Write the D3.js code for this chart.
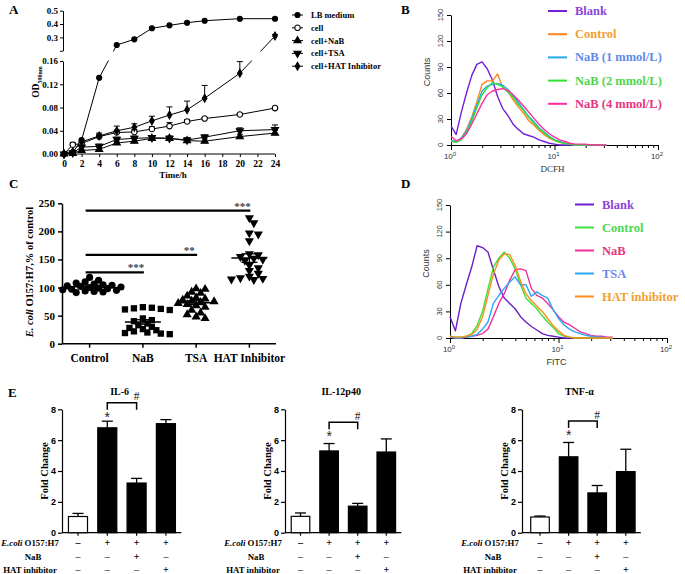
<!DOCTYPE html>
<html>
<head>
<meta charset="utf-8">
<script src="https://cdn.jsdelivr.net/npm/d3@7"></script>
<style>
  body { margin: 0; background: #fff; }
</style>
</head>
<body>
<div id="chart"></div>
<script>
// ---------- data ----------
// panel A: growth curves (OD590)
const hours = [0, 1, 2, 4, 6, 8, 10, 12, 14, 16, 20, 24];
const odLB = [0, 0.003, 0.024, 0.131, 0.243, 0.285, 0.368, 0.39, 0.41, 0.425, 0.44, 0.44];
const odCell = [0, 0.016, 0.018, 0.030, 0.037, 0.038, 0.043, 0.048, 0.056, 0.061, 0.068, 0.079];
const odCellErr = [0, 0.004, 0.003, 0.004, 0.004, 0.004, 0.004, 0.006, 0.003, 0.002, 0.002, 0.003];
const odNaB = [0, 0.001, 0.006, 0.008, 0.019, 0.022, 0.027, 0.027, 0.023, 0.022, 0.030, 0.036];
const odNaBErr = [0, 0.001, 0.002, 0.003, 0.003, 0.004, 0.003, 0.003, 0.003, 0.004, 0.004, 0.005];
const odTSA = [0, 0.002, 0.012, 0.013, 0.025, 0.027, 0.028, 0.027, 0.024, 0.029, 0.040, 0.042];
const odTSAErr = [0, 0.001, 0.003, 0.004, 0.004, 0.004, 0.003, 0.004, 0.004, 0.004, 0.005, 0.008];
const odHAT = [0, 0.004, 0.021, 0.031, 0.040, 0.046, 0.057, 0.067, 0.076, 0.096, 0.139, 0.31];
const odHATErr = [0, 0.002, 0.003, 0.005, 0.008, 0.006, 0.008, 0.014, 0.015, 0.022, 0.02, 0.012];
const seriesNamesA = ["LB medium", "cell", "cell+NaB", "cell+TSA", "cell+HAT Inhibitor"];

// panels B and D: flow cytometry histograms (counts per log10 bin)
const binLog = [0, 0.05, 0.1, 0.15, 0.2, 0.25, 0.3, 0.35, 0.4, 0.45, 0.5, 0.55, 0.6, 0.65, 0.7, 0.75,
                0.8, 0.85, 0.9, 0.95, 1, 1.05, 1.1, 1.15, 1.2, 1.25, 1.3, 1.35, 1.4, 1.45, 1.5];
const bBlank   = [22, 12, 38, 60, 80, 93, 96, 88, 75, 56, 42, 34, 24, 18, 13, 11, 9, 6, 4, 2, 1, 0, 0, 0, 0, 0, 0, 0, 0, 0, 0];
const bControl = [5, 4, 8, 18, 32, 50, 70, 74, 74, 82, 66, 62, 52, 44, 37, 28, 23, 17, 12, 8, 5, 3, 2, 1, 0, 0, 0, 0, 0, 0, 0];
const bNaB1    = [5, 4, 8, 16, 30, 46, 62, 68, 70, 71, 69, 64, 57, 49, 41, 33, 27, 20, 15, 10, 6, 4, 2, 1, 0, 0, 0, 0, 0, 0, 0];
const bNaB2    = [4, 3, 6, 14, 27, 43, 58, 66, 72, 70, 67, 61, 55, 47, 40, 32, 25, 19, 14, 9, 6, 3, 2, 1, 0, 0, 0, 0, 0, 0, 0];
const bNaB4    = [10, 5, 7, 13, 24, 36, 48, 58, 62, 64, 65, 63, 58, 52, 45, 38, 31, 24, 18, 13, 9, 6, 4, 2, 1, 1, 1, 0, 0, 0, 0];
const bLegend  = ["Blank", "Control", "NaB (1 mmol/L)", "NaB (2 mmol/L)", "NaB (4 mmol/L)"];

const dBlank   = [24, 8, 39, 60, 80, 104, 102, 97, 77, 58, 45, 39, 33, 24, 18, 13, 9, 5, 3, 2, 1, 0, 0, 0, 0, 0, 0, 0, 0, 0, 0];
const dControl = [2, 1, 1, 2, 5, 14, 30, 55, 80, 90, 97, 90, 78, 60, 45, 39, 33, 25, 18, 12, 5, 2, 1, 0, 0, 0, 0, 0, 0, 0, 0];
const dNaB     = [1, 0, 0, 1, 2, 3, 5, 10, 24, 39, 50, 65, 77, 78, 76, 56, 48, 45, 39, 32, 24, 18, 15, 11, 7, 5, 3, 2, 2, 1, 1];
const dTSA     = [1, 0, 0, 1, 2, 4, 10, 18, 39, 48, 56, 63, 69, 60, 60, 47, 52, 48, 45, 32, 22, 15, 10, 7, 5, 3, 2, 1, 1, 0, 0];
const dHAT     = [2, 1, 1, 2, 4, 10, 24, 48, 72, 88, 95, 94, 82, 64, 50, 42, 36, 30, 22, 14, 8, 3, 1, 0, 0, 0, 0, 0, 0, 0, 0];
const dLegend  = ["Blank", "Control", "NaB", "TSA", "HAT inhibitor"];

// panel C: E. coli O157:H7 adhesion, % of control
const cCategories = ["Control", "NaB", "TSA", "HAT Inhibitor"];
const cControl = [118, 113, 110, 108, 106, 105, 104, 103, 102, 101, 100, 99, 98, 97, 96, 95, 94, 93, 92, 91];
const cNaB = [65, 64, 63, 62, 61, 60, 45, 42, 40, 36, 33, 30, 28, 26, 24, 22, 20, 19, 18, 17];
const cTSA = [98, 97, 92, 90, 85, 82, 80, 78, 76, 75, 74, 72, 70, 68, 65, 60, 55, 52, 48, 45];
const cHAT = [224, 215, 197, 195, 183, 160, 158, 155, 152, 150, 148, 140, 135, 130, 125, 120, 117, 116, 115, 114];
const cSig = [["NaB", 127, "***"], ["TSA", 158, "**"], ["HAT Inhibitor", 237, "***"]];

// panel E: cytokine fold change
const eGroups = ["none", "ecoli", "ecoli+NaB", "ecoli+HAT"];
const il6 = [1.05, 6.8, 3.22, 7.07];
const il6Err = [0.2, 0.43, 0.3, 0.26];
const il12 = [1.06, 5.3, 1.72, 5.23];
const il12Err = [0.22, 0.48, 0.18, 0.85];
const tnf = [1.02, 4.92, 2.58, 3.96];
const tnfErr = [0.06, 0.93, 0.48, 1.45];
const rowEcoli = ["–", "+", "+", "+"];
const rowNaB = ["–", "–", "+", "–"];
const rowHAT = ["–", "–", "–", "+"];

// ---------- setup ----------
const serif = "'Liberation Serif', 'Times New Roman', serif";
const sans = "'Liberation Sans', Arial, sans-serif";

const svg = d3.select("#chart").append("svg")
    .attr("width", 685)
    .attr("height", 574)
    .style("background", "#fff");

function styleAxis(g, family, size, weight, width) {
  g.attr("font-family", family)
   .attr("font-size", size)
   .attr("font-weight", weight);
  g.selectAll("text").attr("fill", "#000");
  g.selectAll("line, path").attr("stroke", "#000").attr("stroke-width", width);
}

function symbolPath(kind, size) {
  if (kind === "circle") return d3.symbol(d3.symbolCircle, size)();
  if (kind === "square") return d3.symbol(d3.symbolSquare, size)();
  if (kind === "diamond") return d3.symbol(d3.symbolDiamond, size)();
  return d3.symbol(d3.symbolTriangle, size)();
}

function panelLetter(x, y, t) {
  svg.append("text").attr("x", x).attr("y", y).text(t)
    .attr("font-family", serif).attr("font-weight", "bold").attr("font-size", 13);
}

// ---------- panel A ----------
panelLetter(9, 14, "A");
const gA = svg.append("g");
const xA = d3.scaleLinear().domain([0, 24]).range([64, 275]);
const yLow = d3.scaleLinear().domain([0, 0.16]).range([154, 61]);
const yHigh = d3.scaleLinear().domain([0.2, 0.5]).range([50.7, 10.7]);
const yA = v => v <= 0.18 ? yLow(v) : yHigh(v);

const axLow = gA.append("g").attr("transform", "translate(63,0)")
  .call(d3.axisLeft(yLow).tickValues([0, 0.04, 0.08, 0.12, 0.16])
    .tickFormat(d3.format(".2f")).tickSize(3).tickSizeOuter(0).tickPadding(2));
styleAxis(axLow, serif, 9, "bold", 1);
const axHigh = gA.append("g").attr("transform", "translate(63,0)")
  .call(d3.axisLeft(yHigh).tickValues([0.2, 0.3, 0.4, 0.5])
    .tickFormat(d => d < 0.25 ? "" : d3.format(".1f")(d)).tickSize(3).tickSizeOuter(0).tickPadding(2));
styleAxis(axHigh, serif, 9, "bold", 1);
const axXA = gA.append("g").attr("transform", "translate(0,154)")
  .call(d3.axisBottom(xA).tickValues([0, 2, 4, 6, 8, 10, 12, 14, 16, 18, 20, 22, 24])
    .tickSize(3).tickSizeOuter(0).tickPadding(3));
axXA.select(".domain").attr("d", "M63,0H275");
styleAxis(axXA, serif, 9.5, "bold", 1);

gA.append("text")
  .attr("transform", "translate(39,82) rotate(-90)")
  .attr("text-anchor", "middle")
  .attr("font-family", serif).attr("font-weight", "bold").attr("font-size", 9.5)
  .call(t => {
    t.append("tspan").text("OD");
    t.append("tspan").attr("dy", 2.5).attr("font-size", 6).text("590nm");
  });
gA.append("text").attr("x", 173).attr("y", 178).attr("text-anchor", "middle")
  .attr("font-family", serif).attr("font-weight", "bold").attr("font-size", 9)
  .text("Time/h");

const seriesA = [
  { values: odLB, err: null, sym: "circle", fill: "#000", size: 20 },
  { values: odCell, err: odCellErr, sym: "circle", fill: "#fff", size: 24 },
  { values: odNaB, err: odNaBErr, sym: "triUp", fill: "#000", size: 22 },
  { values: odTSA, err: odTSAErr, sym: "triDown", fill: "#000", size: 22 },
  { values: odHAT, err: odHATErr, sym: "diamond", fill: "#000", size: 18 }
];

// clip out the gap of the broken axis
const clipA = svg.append("defs").append("clipPath").attr("id", "clipA");
clipA.append("rect").attr("x", 55).attr("y", 0).attr("width", 240).attr("height", 51.5);
clipA.append("rect").attr("x", 55).attr("y", 60.5).attr("width", 240).attr("height", 110);

const lineA = d3.line().x((d, i) => xA(hours[i])).y(d => yA(d));
const markA = (g, s, cx, cy) => g.append("path")
  .attr("d", symbolPath(s.sym, s.size))
  .attr("transform", `translate(${cx},${cy})` + (s.sym === "triDown" ? " rotate(180)" : ""))
  .attr("fill", s.fill).attr("stroke", "#000").attr("stroke-width", 1.1);

seriesA.forEach(s => {
  gA.append("path").datum(s.values).attr("d", lineA)
    .attr("fill", "none").attr("stroke", "#000").attr("stroke-width", 1)
    .attr("clip-path", "url(#clipA)");
  if (s.err) {
    s.values.forEach((v, i) => {
      if (!s.err[i]) return;
      const x = xA(hours[i]);
      const y1 = yA(v), y2 = yA(v + s.err[i]);
      gA.append("line").attr("x1", x).attr("x2", x).attr("y1", y1).attr("y2", y2)
        .attr("stroke", "#000").attr("stroke-width", 1);
      gA.append("line").attr("x1", x - 3).attr("x2", x + 3).attr("y1", y2).attr("y2", y2)
        .attr("stroke", "#000").attr("stroke-width", 1);
    });
  }
});
seriesA.forEach(s => {
  s.values.forEach((v, i) => markA(gA, s, xA(hours[i]), yA(v)));
});

// legend A
seriesA.forEach((s, i) => {
  const y = 15 + i * 12.8;
  gA.append("line").attr("x1", 292).attr("x2", 303).attr("y1", y).attr("y2", y)
    .attr("stroke", "#000").attr("stroke-width", 1);
  markA(gA, s, 297.5, y);
  gA.append("text").attr("x", 311).attr("y", y + 3)
    .attr("font-family", serif).attr("font-weight", "bold").attr("font-size", 8.5)
    .text(seriesNamesA[i]);
});

// ---------- panels B and D ----------
function flowPanel(cfg) {
  const g = svg.append("g");
  const x = d3.scaleLog().domain([1, 100]).range([cfg.x0, cfg.x1]);
  const y = d3.scaleLinear().domain([0, 150]).range([cfg.y0, cfg.y1]);

  const ax = g.append("g").attr("transform", `translate(0,${cfg.y0})`)
    .call(d3.axisBottom(x).tickValues(x.ticks()).tickFormat("").tickSize(3).tickSizeOuter(0));
  ax.selectAll(".tick line").attr("y2", d => [1, 10, 100].includes(d) ? 5 : 3);
  styleAxis(ax, sans, 8, "normal", 1);
  [0, 1, 2].forEach(p => {
    g.append("text").attr("x", x(Math.pow(10, p)) - 1).attr("y", cfg.y0 + 14)
      .attr("text-anchor", "middle").attr("font-family", sans).attr("font-size", 8).attr("fill", "#333")
      .call(t => {
        t.append("tspan").text("10");
        t.append("tspan").attr("dy", -3.5).attr("font-size", 6).text(p);
      });
  });
  g.append("text").attr("x", (cfg.x0 + cfg.x1) / 2 - 2).attr("y", cfg.y0 + 27)
    .attr("text-anchor", "middle").attr("font-family", cfg.xFont).attr("font-size", 9).attr("fill", "#333")
    .text(cfg.xLabel);

  const ay = g.append("g").attr("transform", `translate(${cfg.x0},0)`)
    .call(d3.axisLeft(y).tickValues([0, 30, 60, 90, 120, 150]).tickFormat("").tickSize(4).tickSizeOuter(0));
  styleAxis(ay, sans, 8, "normal", 1);
  [0, 30, 60, 90, 120, 150].forEach(v => {
    g.append("text").attr("transform", `translate(${cfg.x0 - 8},${y(v)}) rotate(-90)`)
      .attr("text-anchor", "middle").attr("font-family", sans).attr("font-size", 7.5).attr("fill", "#333")
      .text(v);
  });
  g.append("text").attr("transform", `translate(${cfg.x0 - 21},${(cfg.y0 + cfg.y1) / 2 - 8}) rotate(-90)`)
    .attr("text-anchor", "middle").attr("font-family", sans).attr("font-size", 9).attr("fill", "#333")
    .text("Counts");

  const line = d3.line().x((d, i) => x(Math.pow(10, binLog[i]))).y(d => y(d));
  cfg.curves.forEach(c => {
    g.append("path").datum(c.values).attr("d", line)
      .attr("fill", "none").attr("stroke", c.color).attr("stroke-width", 1.4)
      .attr("stroke-linejoin", "round");
  });

  cfg.legend.forEach((c, i) => {
    const ly = cfg.ly0 + i * cfg.lStep;
    g.append("line").attr("x1", cfg.lx).attr("x2", cfg.lx + 19).attr("y1", ly).attr("y2", ly)
      .attr("stroke", c.color).attr("stroke-width", 2);
    g.append("text").attr("x", cfg.lx + 27).attr("y", ly + 4)
      .attr("font-family", serif).attr("font-weight", "bold").attr("font-size", 12.5)
      .attr("fill", c.text).text(c.name);
  });
}

panelLetter(401, 14, "B");
flowPanel({
  x0: 451, x1: 658, y0: 145, y1: 15, xLabel: "DCFH", xFont: serif,
  curves: [
    { values: bBlank, color: "#7420d6" },
    { values: bControl, color: "#ff8420" },
    { values: bNaB1, color: "#22a8f0" },
    { values: bNaB2, color: "#34e034" },
    { values: bNaB4, color: "#ff2e9c" }
  ],
  lx: 548, ly0: 11, lStep: 23.2,
  legend: [
    { name: bLegend[0], color: "#7420d6", text: "#8c45d8" },
    { name: bLegend[1], color: "#ff8420", text: "#f0a030" },
    { name: bLegend[2], color: "#22a8f0", text: "#5f8ae8" },
    { name: bLegend[3], color: "#34e034", text: "#4ed64e" },
    { name: bLegend[4], color: "#ff2e9c", text: "#e83380" }
  ]
});

panelLetter(401, 188, "D");
flowPanel({
  x0: 450, x1: 667, y0: 338, y1: 205, xLabel: "FITC", xFont: sans,
  curves: [
    { values: dBlank, color: "#6a1fc8" },
    { values: dControl, color: "#3be03b" },
    { values: dNaB, color: "#f0309a" },
    { values: dTSA, color: "#2aa8f2" },
    { values: dHAT, color: "#ff8c1a" }
  ],
  lx: 575, ly0: 204.5, lStep: 23,
  legend: [
    { name: dLegend[0], color: "#6a1fc8", text: "#8c45d8" },
    { name: dLegend[1], color: "#3be03b", text: "#4ed64e" },
    { name: dLegend[2], color: "#f0309a", text: "#e83380" },
    { name: dLegend[3], color: "#2aa8f2", text: "#6f86e8" },
    { name: dLegend[4], color: "#ff8c1a", text: "#f0a030" }
  ]
});

// ---------- panel C ----------
panelLetter(9, 188, "C");
const gC = svg.append("g");
const xC = d3.scaleBand().domain(cCategories).range([63, 276]);
const yC = d3.scaleLinear().domain([0, 250]).range([343.7, 203.3]);
const cx = c => xC(c) + xC.bandwidth() / 2;

const ayC = gC.append("g").attr("transform", "translate(62,0)")
  .call(d3.axisLeft(yC).tickValues([0, 50, 100, 150, 200, 250]).tickSize(4).tickSizeOuter(0).tickPadding(3));
styleAxis(ayC, serif, 11, "bold", 1.5);
const axC = gC.append("g").attr("transform", "translate(0,343.7)")
  .call(d3.axisBottom(xC).tickSize(4).tickSizeOuter(0).tickPadding(6));
axC.select(".domain").attr("d", "M62,0H276");
styleAxis(axC, serif, 11.5, "bold", 1.5);

gC.append("text")
  .attr("transform", "translate(33,272) rotate(-90)")
  .attr("text-anchor", "middle")
  .attr("font-family", serif).attr("font-weight", "bold").attr("font-size", 10.5)
  .call(t => {
    t.append("tspan").attr("font-style", "italic").text("E. coli");
    t.append("tspan").text(" O157:H7,% of control");
  });

// simple dodge so the points of one group sit side by side
function dodge(values, center, gap) {
  const placed = [];
  values.slice().sort((a, b) => b - a).forEach(v => {
    const py = yC(v);
    let k = 0, px = center;
    while (k < 40) {
      const off = k === 0 ? 0 : (k % 2 ? 1 : -1) * Math.ceil(k / 2) * gap * 0.8;
      px = center + off;
      if (placed.every(p => Math.hypot(p.x - px, p.y - py) >= gap)) break;
      k++;
    }
    placed.push({ x: px, y: py });
  });
  return placed;
}

const groupsC = [
  { cat: "Control", values: cControl, sym: "circle", size: 40 },
  { cat: "NaB", values: cNaB, sym: "square", size: 40 },
  { cat: "TSA", values: cTSA, sym: "triUp", size: 36 },
  { cat: "HAT Inhibitor", values: cHAT, sym: "triDown", size: 36 }
];
groupsC.forEach(gr => {
  const c = cx(gr.cat);
  dodge(gr.values, c, 5.6).forEach(p => {
    gC.append("path").attr("d", symbolPath(gr.sym, gr.size))
      .attr("transform", `translate(${p.x},${p.y})` + (gr.sym === "triDown" ? " rotate(180)" : ""))
      .attr("fill", "#000");
  });
  const m = d3.mean(gr.values);
  const sem = d3.deviation(gr.values) / Math.sqrt(gr.values.length);
  gC.append("line").attr("x1", c - 18).attr("x2", c + 18).attr("y1", yC(m)).attr("y2", yC(m))
    .attr("stroke", "#000").attr("stroke-width", 1.5);
  gC.append("line").attr("x1", c).attr("x2", c).attr("y1", yC(m - sem)).attr("y2", yC(m + sem))
    .attr("stroke", "#000").attr("stroke-width", 1.3);
  [m - sem, m + sem].forEach(v => {
    gC.append("line").attr("x1", c - 8).attr("x2", c + 8).attr("y1", yC(v)).attr("y2", yC(v))
      .attr("stroke", "#000").attr("stroke-width", 1.3);
  });
});

cSig.forEach(s => {
  const y = yC(s[1]);
  gC.append("line").attr("x1", cx("Control") - 4).attr("x2", cx(s[0]) + 1).attr("y1", y).attr("y2", y)
    .attr("stroke", "#000").attr("stroke-width", 2.2);
  gC.append("text").attr("x", cx(s[0]) - 7).attr("y", y - 1).attr("text-anchor", "middle")
    .attr("font-family", serif).attr("font-weight", "bold").attr("font-size", 11).attr("fill", "#444")
    .text(s[2]);
});

// ---------- panel E ----------
panelLetter(8, 397, "E");
function barPanel(cfg) {
  const g = svg.append("g");
  const x = d3.scaleBand().domain(eGroups).range([cfg.r0, cfg.r1]).paddingInner(0.35).paddingOuter(0.2);
  const y = d3.scaleLinear().domain([0, 8]).range([532.7, 409.3]);
  const bx = k => x(k) + x.bandwidth() / 2;

  const ay = g.append("g").attr("transform", `translate(${cfg.ax},0)`)
    .call(d3.axisLeft(y).tickValues([0, 2, 4, 6, 8]).tickSize(4).tickSizeOuter(0).tickPadding(2));
  styleAxis(ay, sans, 9, "bold", 1.2);
  const axX = g.append("g").attr("transform", "translate(0,532.7)")
    .call(d3.axisBottom(x).tickSize(3).tickSizeOuter(0).tickFormat(""));
  axX.select(".domain").attr("d", `M${cfg.ax},0H${cfg.r1}`);
  styleAxis(axX, sans, 9, "bold", 1.2);

  g.append("text").attr("transform", `translate(${cfg.ax - 14},471) rotate(-90)`)
    .attr("text-anchor", "middle").attr("font-family", serif).attr("font-weight", "bold")
    .attr("font-size", 10.5).text("Fold Change");
  g.append("text").attr("x", (cfg.ax + cfg.r1) / 2 - 2).attr("y", 395)
    .attr("text-anchor", "middle").attr("font-family", serif).attr("font-weight", "bold")
    .attr("font-size", 10).text(cfg.title);

  eGroups.forEach((k, i) => {
    const v = cfg.values[i], e = cfg.err[i];
    g.append("rect").attr("x", x(k)).attr("y", y(v)).attr("width", x.bandwidth())
      .attr("height", y(0) - y(v))
      .attr("fill", i === 0 ? "#fff" : "#000").attr("stroke", "#000").attr("stroke-width", 1.2);
    g.append("line").attr("x1", bx(k)).attr("x2", bx(k)).attr("y1", y(v)).attr("y2", y(v + e))
      .attr("stroke", "#000").attr("stroke-width", 1.3);
    g.append("line").attr("x1", bx(k) - 5.5).attr("x2", bx(k) + 5.5).attr("y1", y(v + e)).attr("y2", y(v + e))
      .attr("stroke", "#000").attr("stroke-width", 1.3);
  });

  // bracket between E. coli and E. coli + NaB
  const bt = cfg.bracketY;
  const b1 = bx(eGroups[1]), b2 = bx(eGroups[2]);
  g.append("path").attr("d", `M${b1},${bt + 7}V${bt}H${b2}V${bt + 7}`)
    .attr("fill", "none").attr("stroke", "#000").attr("stroke-width", 1.5);
  g.append("text").attr("x", b2).attr("y", bt - 2.5).attr("text-anchor", "middle")
    .attr("font-family", serif).attr("font-size", 11.5).attr("fill", "#222").text("#");
  g.append("text").attr("x", b1).attr("y", bt + 19).attr("text-anchor", "middle")
    .attr("font-family", sans).attr("font-size", 14).attr("fill", "#222").text("*");

  // treatment rows
  const rows = [rowEcoli, rowNaB, rowHAT];
  const rowY = [545.5, 559.5, 573];
  rows.forEach((r, ri) => {
    r.forEach((m, i) => {
      g.append("text").attr("x", bx(eGroups[i])).attr("y", rowY[ri]).attr("text-anchor", "middle")
        .attr("font-family", serif).attr("font-weight", "bold").attr("font-size", 10)
        .attr("fill", ri === 0 || m === "+" ? "#000" : "#555").text(m);
    });
  });
  const lx = cfg.ax - 32;
  g.append("text").attr("x", lx).attr("y", rowY[0]).attr("text-anchor", "middle")
    .attr("font-family", serif).attr("font-weight", "bold").attr("font-size", 8.8)
    .call(t => {
      t.append("tspan").attr("font-style", "italic").text("E.coli");
      t.append("tspan").text(" O157:H7");
    });
  g.append("text").attr("x", lx + 3).attr("y", rowY[1]).attr("text-anchor", "middle")
    .attr("font-family", serif).attr("font-weight", "bold").attr("font-size", 8.8).text("NaB");
  g.append("text").attr("x", lx).attr("y", rowY[2]).attr("text-anchor", "middle")
    .attr("font-family", serif).attr("font-weight", "bold").attr("font-size", 8.8).text("HAT inhibitor");
}

barPanel({ title: "IL-6", values: il6, err: il6Err, ax: 62, r0: 62.6, r1: 181.3, bracketY: 402.7 });
barPanel({ title: "IL-12p40", values: il12, err: il12Err, ax: 285, r0: 285.5, r1: 401.3, bracketY: 422.3 });
barPanel({ title: "TNF-α", values: tnf, err: tnfErr, ax: 522, r0: 525, r1: 640.8, bracketY: 421 });
</script>
</body>
</html>
